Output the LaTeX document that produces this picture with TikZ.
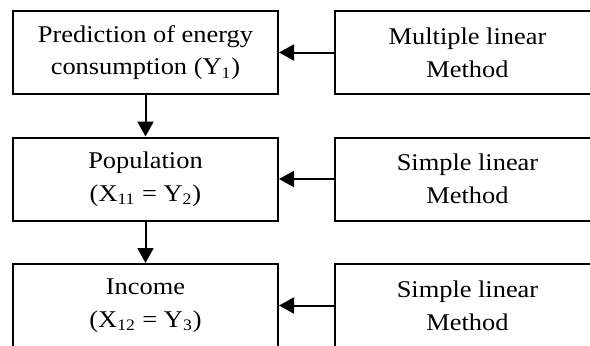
\documentclass[tikz,border=0pt]{standalone}
\usepackage{fontspec}
\setmainfont{Liberation Serif}[FakeStretch=1.1]
\usetikzlibrary{arrows.meta}

\begin{document}
\begin{tikzpicture}[x=0.5pt, y=0.5pt, font=\fontsize{12}{16.4}\selectfont,
	kasten/.style={draw=black, line width=1pt, minimum width=132.5pt, minimum height=41.5pt, inner sep=0pt, align=center,
		execute at begin node={\rule{0pt}{12.5pt}}},
	pfeil/.style={-{Triangle[length=7.5pt,width=8pt]}, line width=1pt}]
	\useasboundingbox (0,0) rectangle (590,-345);
	\clip (0,0) rectangle (590,-345);
	
	% Linke Spalte: Groessen
	\node[kasten] (pred) at (145.5,-52.5) {Prediction of energy\\consumption (Y\textsubscript{1})};
	\node[kasten] (pop) at (145.5,-179) {Population\\(X\textsubscript{11} = Y\textsubscript{2})};
	\node[kasten] (inc) at (145.5,-305.5) {Income\\(X\textsubscript{12} = Y\textsubscript{3})};
	
	% Rechte Spalte: Methoden
	\node[kasten] (mlm) at (467.5,-52.5) {Multiple linear\\Method};
	\node[kasten] (slm1) at (467.5,-179) {Simple linear\\Method};
	\node[kasten] (slm2) at (467.5,-305.5) {Simple linear\\Method};
	
	% Pfeile
	\draw[pfeil] (pred) -- (pop);
	\draw[pfeil] (pop) -- (inc);
	\draw[pfeil] (mlm) -- (pred);
	\draw[pfeil] (slm1) -- (pop);
	\draw[pfeil] (slm2) -- (inc);
\end{tikzpicture}
\end{document}
